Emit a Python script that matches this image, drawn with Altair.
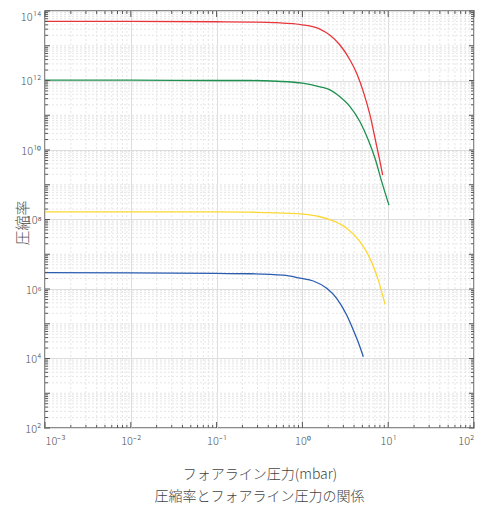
import json
import altair as alt
import pandas as pd

# ---- data (pressure in mbar, compression ratio) ----
red_p = [0.001, 0.01, 0.1, 0.25, 0.5, 1.0, 1.6, 2.1, 2.74, 3.59, 4.3, 5.13, 6.13, 7.02, 7.87, 8.63]
red_k = [5.0e13, 5.0e13, 4.9e13, 4.8e13, 4.6e13, 4.0e13, 3.0e13, 2.0e13, 1.05e13, 3.9e12, 1.6e12,
         4.8e11, 1.02e11, 2.2e10, 5.8e9, 1.9e9]

green_p = [0.001, 0.01, 0.1, 0.25, 0.5, 1.0, 1.6, 2.1, 2.74, 3.59, 4.69, 5.86, 7.02, 8.4, 10.2]
green_k = [1.02e12, 1.02e12, 1.0e12, 1.0e12, 9.5e11, 8.4e11, 6.6e11, 5.4e11, 3.4e11, 1.78e11,
           6.5e10, 1.95e10, 5.8e9, 1.23e9, 2.6e8]

yellow_p = [0.001, 0.01, 0.1, 0.25, 0.5, 0.94, 1.6, 2.29, 3.28, 4.69, 6.13, 7.67, 9.19]
yellow_k = [1.66e8, 1.66e8, 1.66e8, 1.62e8, 1.55e8, 1.45e8, 1.2e8, 9.1e7, 5.6e7, 2.3e7, 7.6e6,
            1.8e6, 3.6e5]

blue_p = [0.001, 0.01, 0.1, 0.25, 0.6, 0.94, 1.34, 1.92, 2.51, 3.28, 3.92, 4.6, 5.13]
blue_k = [2.95e6, 2.9e6, 2.8e6, 2.75e6, 2.5e6, 2.05e6, 1.7e6, 1.05e6, 5.4e5, 1.78e5, 6.6e4,
          2.45e4, 1.12e4]

series_names = ["red", "green", "yellow", "blue"]
series_colors = ["#e8353a", "#1e9150", "#fdd835", "#2a5db0"]

x_ticks = [0.001, 0.01, 0.1, 1, 10, 100]
x_tick_labels = ["10⁻³", "10⁻²", "10⁻¹", "10⁰", "10¹", "10²"]
y_ticks = [1e2, 1e4, 1e6, 1e8, 1e10, 1e12, 1e14]
y_tick_labels = ["10²", "10⁴", "10⁶", "10⁸", "10¹⁰", "10¹²", "10¹⁴"]

x_title = "フォアライン圧力(mbar)"
y_title = "圧縮率"
chart_title = "圧縮率とフォアライン圧力の関係"

# ---- build tables ----
rows = []
for name, ps, ks in zip(series_names, [red_p, green_p, yellow_p, blue_p],
                        [red_k, green_k, yellow_k, blue_k]):
    for p, k in zip(ps, ks):
        rows.append({"series": name, "p": p, "k": k})
df = pd.DataFrame(rows)

x_decades = [10.0 ** n for n in range(-3, 3)]
x_minor = [m * 10.0 ** n for n in range(-3, 2) for m in range(2, 10)]
y_decades = [10.0 ** n for n in range(2, 15)]
y_all = [m * 10.0 ** n for n in range(2, 14) for m in range(1, 10)] + [1e14]
y_minor_grid = [v for v in y_all if v not in y_ticks]
y_minor_ticks = [m * 10.0 ** n for n in range(2, 14) for m in range(2, 10)]

W, H = 429, 417
FONT = "Noto Sans CJK JP"
AX = "#555555"

xscale = alt.Scale(type="log", domain=[0.001, 100], nice=False)
yscale = alt.Scale(type="log", domain=[1e2, 1e14], nice=False)

x_expr = "%s[indexof(%s, datum.value)]" % (json.dumps(x_tick_labels, ensure_ascii=False), json.dumps(x_ticks))
y_expr = "%s[indexof(%s, datum.value)]" % (json.dumps(y_tick_labels, ensure_ascii=False), json.dumps(y_ticks))

x_axis = alt.Axis(values=x_ticks, labelExpr=x_expr, grid=True, gridColor="#dddddd", gridWidth=1,
                  ticks=False, domain=False, labelPadding=7, labelFont=FONT, labelFontSize=11,
                  labelFontWeight=300, labelColor="#555555", title=x_title, titleFont=FONT,
                  titleFontSize=14, titleFontWeight=300, titleColor="#444444", titleY=46,
                  titleBaseline="middle")
y_axis = alt.Axis(values=y_ticks, labelExpr=y_expr, grid=True, gridColor="#dddddd", gridWidth=1,
                  ticks=False, domain=False, labelPadding=4, labelFont=FONT, labelFontSize=11,
                  labelFontWeight=300, labelColor="#555555",
                  labelOffset={"condition": {"test": "datum.value >= 1e14", "value": 6}, "value": 1},
                  title=y_title, titleFont=FONT, titleFontSize=15,
                  titleFontWeight=300, titleColor="#555555", titleX=-23, titleY=H / 2 + 3,
                  titleAngle=270, titleAlign="center", titleBaseline="middle")


def xenc(field="p"):
    return alt.X(field + ":Q", scale=xscale, axis=x_axis)


def yenc(field="k"):
    return alt.Y(field + ":Q", scale=yscale, axis=y_axis)


# minor grid
gx = alt.Chart(pd.DataFrame({"p": x_minor})).mark_rule(
    color="#e6e6e6", strokeDash=[2, 2], strokeWidth=1).encode(x=xenc())
gy = alt.Chart(pd.DataFrame({"k": y_minor_grid})).mark_rule(
    color="#e6e6e6", strokeDash=[2, 2], strokeWidth=1).encode(y=yenc())

lines = alt.Chart(df).mark_line(strokeWidth=1.3, interpolate="monotone").encode(
    x=xenc(), y=yenc(),
    color=alt.Color("series:N", scale=alt.Scale(domain=series_names, range=series_colors), legend=None),
    detail="series:N",
)


def xt(vals, length):
    d = pd.DataFrame({"p": vals})
    b = alt.Chart(d).mark_rule(color=AX, strokeWidth=1).encode(
        x=xenc(), y=alt.value(H), y2=alt.value(H - length))
    t = alt.Chart(d).mark_rule(color=AX, strokeWidth=1).encode(
        x=xenc(), y=alt.value(0), y2=alt.value(length))
    return [b, t]


def yt(vals, length):
    d = pd.DataFrame({"k": vals})
    l = alt.Chart(d).mark_rule(color=AX, strokeWidth=1).encode(
        y=yenc(), x=alt.value(0), x2=alt.value(length))
    r = alt.Chart(d).mark_rule(color=AX, strokeWidth=1).encode(
        y=yenc(), x=alt.value(W), x2=alt.value(W - length))
    return [l, r]


layers = [gx, gy, lines] + xt(x_decades, 6) + xt(x_minor, 3) + yt(y_decades, 5) + yt(y_minor_ticks, 3)

chart = alt.layer(*layers).properties(
    width=W, height=H,
    autosize=alt.AutoSizeParams(type="none"),
    padding={"left": 37, "top": 3, "right": 6, "bottom": 80},
    title=alt.TitleParams(chart_title, orient="bottom", anchor="middle", font=FONT, fontSize=14,
                          fontWeight=300, color="#444444", offset=9),
).configure_view(stroke="#666666", strokeWidth=1.5)

chart.save("out.html", embed_options={"renderer": "svg", "actions": False})
